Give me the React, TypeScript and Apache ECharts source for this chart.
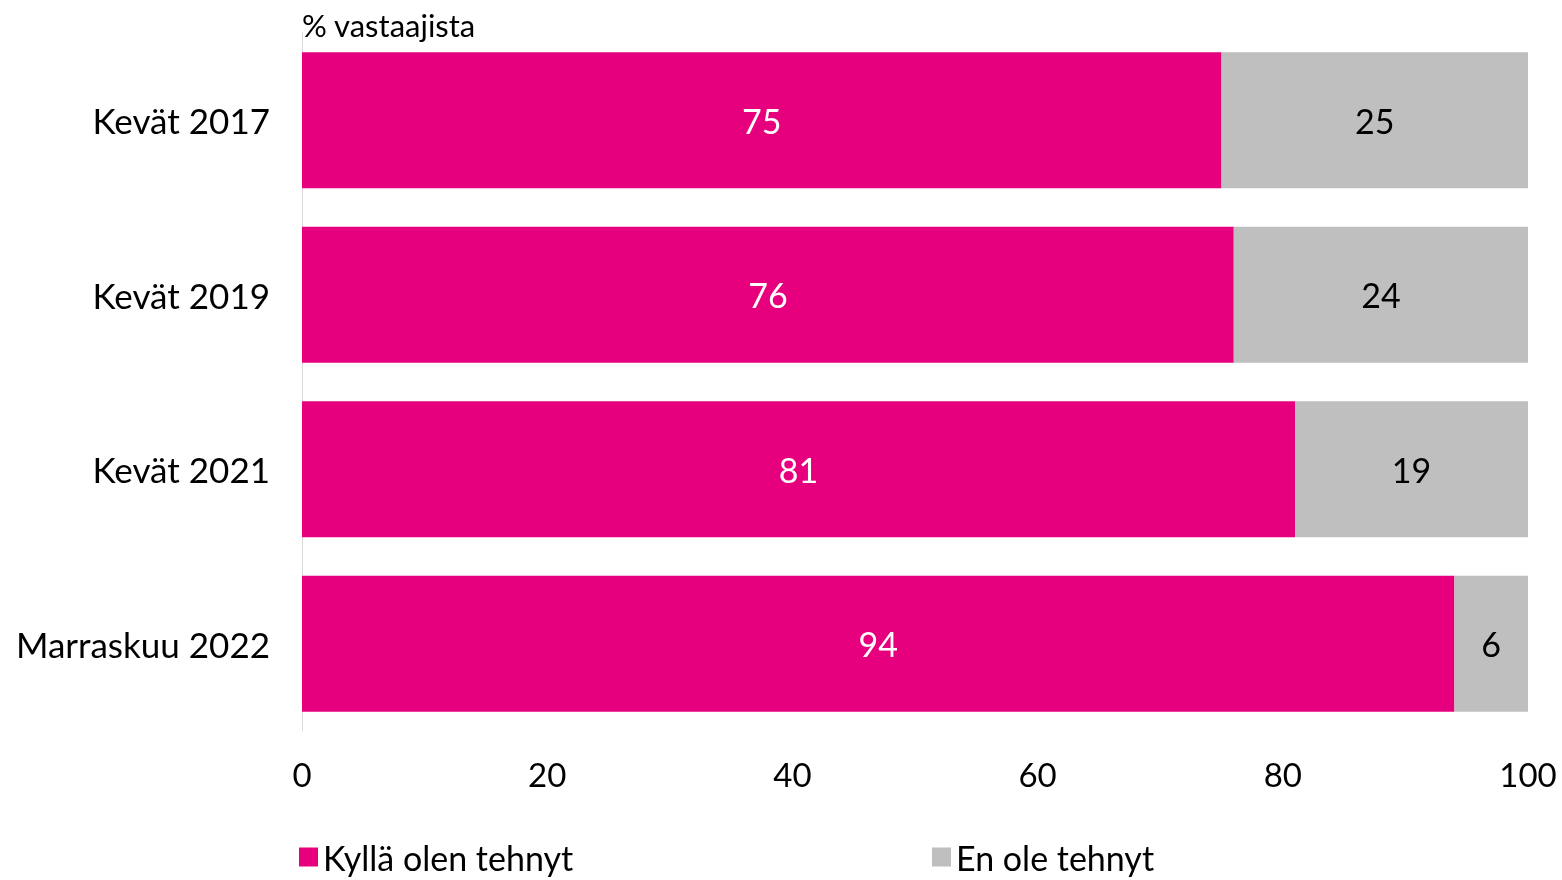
import React, { useEffect, useRef } from "react";
import * as echarts from "echarts";

const categories = ["Kevät 2017", "Kevät 2019", "Kevät 2021", "Marraskuu 2022"];
const yesValues = [75, 76, 81, 94];
const noValues = [25, 24, 19, 6];
const seriesNames = ["Kyllä olen tehnyt", "En ole tehnyt"];
const axisTitle = "% vastaajista";

const FONT = "Lato, 'Open Sans', sans-serif";

export default function App() {
  const ref = useRef<HTMLDivElement>(null);
  useEffect(() => {
    if (!ref.current) return;
    const chart = echarts.init(ref.current, undefined, { renderer: "svg" });
    chart.setOption({
      animation: false,
      textStyle: { fontFamily: FONT },
      title: {
        text: axisTitle,
        left: 297,
        top: 4,
        textStyle: { fontFamily: FONT, fontSize: 31, fontWeight: "normal", color: "#000" },
      },
      legend: [
        {
          data: [seriesNames[0]],
          left: 294,
          top: 835,
          itemWidth: 19,
          itemHeight: 19,
          itemGap: 6,
          icon: "rect",
          textStyle: { fontFamily: FONT, fontSize: 34, color: "#000", padding: [0, 0, 0, 0] },
        },
        {
          data: [seriesNames[1]],
          left: 927,
          top: 835,
          itemWidth: 19,
          itemHeight: 19,
          icon: "rect",
          textStyle: { fontFamily: FONT, fontSize: 34, color: "#000", padding: [0, 0, 0, 0] },
        },
      ],
      grid: { left: 302, right: 34, top: 33, bottom: 149, containLabel: false },
      xAxis: {
        type: "value",
        min: 0,
        max: 100,
        interval: 20,
        splitLine: { show: false },
        axisLine: { show: false },
        axisTick: { show: false },
        axisLabel: { fontFamily: FONT, fontSize: 33, color: "#000", margin: 26 },
      },
      yAxis: {
        type: "category",
        data: categories,
        inverse: true,
        axisLine: { show: true, lineStyle: { color: "#d9d9d9", width: 1 } },
        axisTick: { show: false },
        axisLabel: { fontFamily: FONT, fontSize: 35, color: "#000", margin: 32 },
      },
      series: [
        {
          name: seriesNames[0],
          type: "bar",
          stack: "total",
          data: yesValues,
          barCategoryGap: "22%",
          itemStyle: { color: "#E6007E" },
          label: { show: true, position: "inside", color: "#fff", fontFamily: FONT, fontSize: 34 },
        },
        {
          name: seriesNames[1],
          type: "bar",
          stack: "total",
          data: noValues,
          barCategoryGap: "22%",
          itemStyle: { color: "#BFBFBF" },
          label: { show: true, position: "inside", color: "#000", fontFamily: FONT, fontSize: 34 },
        },
      ],
    });
    return () => chart.dispose();
  }, []);
  return (
    <div
      ref={ref}
      style={{ position: "fixed", left: 0, top: 0, width: 1562, height: 880 }}
    />
  );
}
